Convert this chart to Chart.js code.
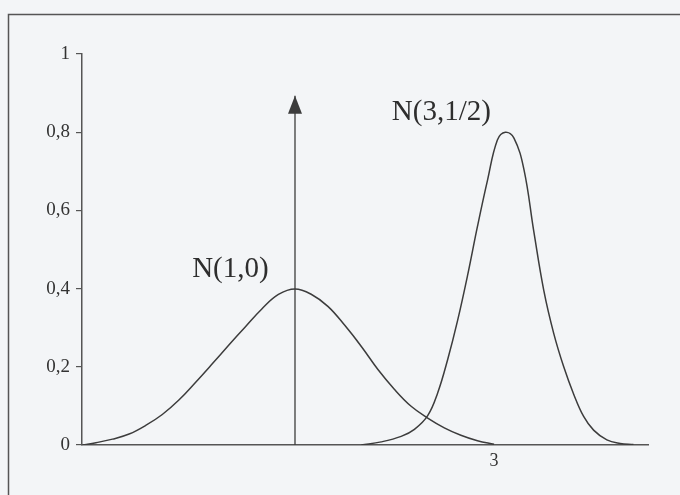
<!DOCTYPE html>
<html>
<head>
<meta charset="utf-8">
<script src="https://cdn.jsdelivr.net/npm/chart.js@4"></script>
<style>
  html, body { margin: 0; padding: 0; background: #f3f5f7; }
  #wrap { width: 680px; height: 495px; position: relative; }
</style>
</head>
<body>
<div id="wrap"><canvas id="chart"></canvas></div>
<script>
// values (x: 0 at the arrow, 3 at the tick label)
const curve1X = [-3.2, -3.0, -2.75, -2.5, -2.25, -2.0, -1.75, -1.5, -1.25, -1.0, -0.75, -0.5, -0.25, 0, 0.25, 0.5, 0.75, 1.0, 1.25, 1.5, 1.75, 2.0, 2.25, 2.5, 2.75, 3.0];
const curve1Y = [0, 0.006, 0.015, 0.028, 0.05, 0.078, 0.115, 0.16, 0.207, 0.255, 0.302, 0.348, 0.385, 0.399, 0.385, 0.354, 0.306, 0.252, 0.193, 0.142, 0.099, 0.069, 0.044, 0.025, 0.011, 0.002];

const curve2X = [1.0, 1.3, 1.6, 1.8, 2.0, 2.15, 2.3, 2.45, 2.6, 2.75, 2.9, 3.05, 3.17, 3.3, 3.45, 3.6, 3.75, 3.9, 4.05, 4.2, 4.35, 4.5, 4.7, 4.9, 5.1];
const curve2Y = [0, 0.008, 0.022, 0.04, 0.075, 0.133, 0.218, 0.318, 0.433, 0.559, 0.676, 0.78, 0.8, 0.785, 0.705, 0.545, 0.395, 0.285, 0.2, 0.13, 0.073, 0.038, 0.013, 0.004, 0.001];

const arrowX = [0, 0];
const arrowY = [0, 0.893];

const yTicks = [0, 0.2, 0.4, 0.6, 0.8, 1];
const yTickLabels = ['0', '0,2', '0,4', '0,6', '0,8', '1'];
const xTicks = [3];
const xTickLabels = ['3'];

const curveLabels = [
  { text: 'N(1,0)', x: -1.55, y: 0.43 },
  { text: 'N(3,1/2)', x: 1.46, y: 0.831 }
];

const ink = '#3c3c3c';
const serif = '"Liberation Serif", "Times New Roman", serif';

function toPoints(xs, ys) {
  return xs.map((x, i) => ({ x: x, y: ys[i] }));
}

// frame, arrow head and curve names
const extras = {
  id: 'extras',
  beforeDraw(chart) {
    const ctx = chart.ctx;
    ctx.save();
    ctx.fillStyle = '#f3f5f7';
    ctx.fillRect(0, 0, chart.width, chart.height);
    ctx.strokeStyle = '#555';
    ctx.lineWidth = 1.5;
    ctx.beginPath();
    ctx.moveTo(8.5, chart.height);
    ctx.lineTo(8.5, 14.5);
    ctx.lineTo(chart.width, 14.5);
    ctx.stroke();
    ctx.restore();
  },
  afterDatasetsDraw(chart) {
    const ctx = chart.ctx;
    const xs = chart.scales.x, ys = chart.scales.y;
    const tx = xs.getPixelForValue(arrowX[1]);
    const ty = ys.getPixelForValue(arrowY[1]);
    ctx.save();
    ctx.fillStyle = ink;
    ctx.beginPath();
    ctx.moveTo(tx, ty);
    ctx.lineTo(tx - 7, ty + 18);
    ctx.lineTo(tx + 7, ty + 18);
    ctx.closePath();
    ctx.fill();

    ctx.font = '29px ' + serif;
    ctx.fillStyle = '#2e2e2e';
    ctx.textAlign = 'left';
    ctx.textBaseline = 'alphabetic';
    curveLabels.forEach(l => {
      ctx.fillText(l.text, xs.getPixelForValue(l.x), ys.getPixelForValue(l.y));
    });
    ctx.restore();
  }
};

const lineStyle = {
  borderColor: ink,
  borderWidth: 1.5,
  pointRadius: 0,
  showLine: true,
  fill: false,
  tension: 0.4
};

new Chart(document.getElementById('chart'), {
  type: 'scatter',
  data: {
    datasets: [
      { ...lineStyle, data: toPoints(curve1X, curve1Y) },
      { ...lineStyle, data: toPoints(curve2X, curve2Y) },
      { ...lineStyle, borderWidth: 1.3, tension: 0, data: toPoints(arrowX, arrowY) }
    ]
  },
  options: {
    responsive: true,
    maintainAspectRatio: false,
    animation: false,
    layout: { padding: { top: 54, right: 32, bottom: 0, left: 0 } },
    plugins: {
      legend: { display: false },
      tooltip: { enabled: false }
    },
    scales: {
      x: {
        type: 'linear',
        min: -3.21,
        max: 5.32,
        afterFit(scale) { scale.height = 50; },
        afterBuildTicks(scale) { scale.ticks = xTicks.map(v => ({ value: v })); },
        grid: { display: false },
        border: { display: true, color: '#555', width: 1.5 },
        ticks: {
          color: '#333',
          padding: -3,
          maxRotation: 0,
          font: { family: serif, size: 18 },
          callback: (v) => xTickLabels[xTicks.indexOf(v)] ?? ''
        }
      },
      y: {
        min: 0,
        max: 1,
        afterFit(scale) { scale.width = 82; },
        afterBuildTicks(scale) { scale.ticks = yTicks.map(v => ({ value: v })); },
        grid: { display: true, drawOnChartArea: false, drawTicks: true, tickLength: 6, color: '#555', lineWidth: 1.2 },
        border: { display: true, color: '#555', width: 1.5 },
        ticks: {
          color: '#333',
          padding: 6,
          font: { family: serif, size: 19 },
          callback: (v) => yTickLabels[yTicks.indexOf(v)] ?? ''
        }
      }
    }
  },
  plugins: [extras]
});
</script>
</body>
</html>
